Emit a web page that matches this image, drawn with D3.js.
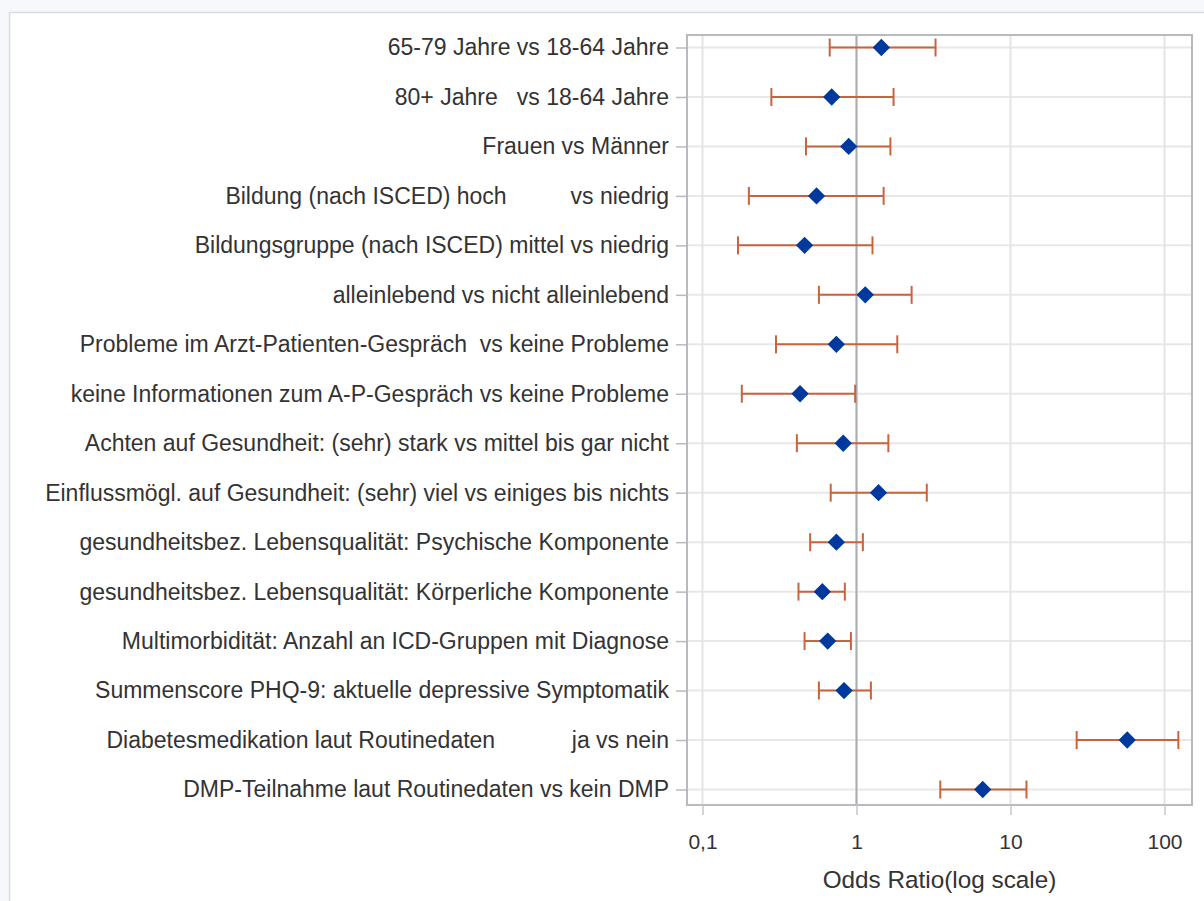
<!DOCTYPE html>
<html>
<head>
<meta charset="utf-8">
<script src="https://cdn.jsdelivr.net/npm/d3@7"></script>
<style>
  html, body { margin: 0; padding: 0; background: #f6f8fc; }
  svg { display: block; }
  text { font-family: "Liberation Sans", Arial, sans-serif; fill: #333; }
</style>
</head>
<body>
<svg id="chart" width="1204" height="901"></svg>
<script>
// Predictors (top to bottom)
const categories = [
  "65-79 Jahre vs 18-64 Jahre",
  "80+ Jahre   vs 18-64 Jahre",
  "Frauen vs Männer",
  "Bildung (nach ISCED) hoch          vs niedrig",
  "Bildungsgruppe (nach ISCED) mittel vs niedrig",
  "alleinlebend vs nicht alleinlebend",
  "Probleme im Arzt-Patienten-Gespräch  vs keine Probleme",
  "keine Informationen zum A-P-Gespräch vs keine Probleme",
  "Achten auf Gesundheit: (sehr) stark vs mittel bis gar nicht",
  "Einflussmögl. auf Gesundheit: (sehr) viel vs einiges bis nichts",
  "gesundheitsbez. Lebensqualität: Psychische Komponente",
  "gesundheitsbez. Lebensqualität: Körperliche Komponente",
  "Multimorbidität: Anzahl an ICD-Gruppen mit Diagnose",
  "Summenscore PHQ-9: aktuelle depressive Symptomatik",
  "Diabetesmedikation laut Routinedaten            ja vs nein",
  "DMP-Teilnahme laut Routinedaten vs kein DMP"
];

// Odds ratios with 95% confidence limits
const oddsRatio = [1.45, 0.69, 0.89, 0.55, 0.46, 1.14, 0.74, 0.43, 0.82, 1.39, 0.74, 0.60, 0.65, 0.83, 57.3, 6.6];
const lowerCL   = [0.67, 0.28, 0.47, 0.20, 0.17, 0.57, 0.30, 0.18, 0.41, 0.68, 0.50, 0.42, 0.46, 0.57, 26.9, 3.5];
const upperCL   = [3.26, 1.74, 1.66, 1.50, 1.27, 2.28, 1.84, 0.98, 1.61, 2.86, 1.10, 0.84, 0.92, 1.24, 123, 12.7];

const xTicks = [0.1, 1, 10, 100];
const xTickLabels = ["0,1", "1", "10", "100"];
const xTitle = "Odds Ratio(log scale)";

const rows = categories.map((c, i) => ({ label: c, or: oddsRatio[i], lo: lowerCL[i], hi: upperCL[i] }));

const svg = d3.select("#chart");

// white panel
svg.append("rect")
  .attr("x", 9.5).attr("y", 12.5).attr("width", 1200).attr("height", 900)
  .attr("fill", "#ffffff").attr("stroke", "#d9dce1").attr("stroke-width", 1.5);

const frame = { left: 687, right: 1192, top: 35, bottom: 805 };

const x = d3.scaleLog().domain([0.0793, 150.9]).range([frame.left, frame.right]);
const y = d3.scalePoint().domain(categories).range([47.5, 789.5]);

const g = svg.append("g");

// horizontal gridlines
g.selectAll("line.hgrid").data(categories).join("line")
  .attr("class", "hgrid")
  .attr("x1", frame.left).attr("x2", frame.right)
  .attr("y1", d => y(d)).attr("y2", d => y(d))
  .attr("stroke", "#e8e8e8").attr("stroke-width", 2);

// vertical gridlines
g.selectAll("line.vgrid").data(xTicks).join("line")
  .attr("class", "vgrid")
  .attr("x1", d => x(d)).attr("x2", d => x(d))
  .attr("y1", frame.top).attr("y2", frame.bottom)
  .attr("stroke", "#e4e4e4").attr("stroke-width", 2);

// reference line at OR = 1
g.append("line")
  .attr("x1", x(1)).attr("x2", x(1))
  .attr("y1", frame.top).attr("y2", frame.bottom)
  .attr("stroke", "#a9aeb3").attr("stroke-width", 2);

// frame
g.append("rect")
  .attr("x", frame.left).attr("y", frame.top)
  .attr("width", frame.right - frame.left).attr("height", frame.bottom - frame.top)
  .attr("fill", "none").attr("stroke", "#b7bbc0").attr("stroke-width", 2);

// y axis (labels + ticks)
const yAxis = d3.axisLeft(y).tickSize(11).tickPadding(7);
const ya = svg.append("g").attr("transform", `translate(${frame.left},0)`).call(yAxis);
ya.select(".domain").remove();
ya.selectAll(".tick line").attr("stroke", "#b7bbc0").attr("stroke-width", 1.5);
ya.selectAll(".tick text")
  .style("white-space", "pre")
  .attr("font-size", 23)
  .attr("fill", "#333")
  .attr("font-family", "\"Liberation Sans\", Arial, sans-serif");

// x axis
const xAxis = d3.axisBottom(x).tickValues(xTicks)
  .tickFormat((d, i) => xTickLabels[i]).tickSize(10).tickPadding(19);
const xa = svg.append("g").attr("transform", `translate(0,${frame.bottom})`).call(xAxis);
xa.select(".domain").remove();
xa.selectAll(".tick line").attr("stroke", "#c4c7cb").attr("stroke-width", 1.5);
xa.selectAll(".tick text")
  .attr("font-size", 21)
  .attr("fill", "#333")
  .attr("font-family", "\"Liberation Sans\", Arial, sans-serif");

svg.append("text")
  .attr("x", (frame.left + frame.right) / 2).attr("y", 888)
  .attr("text-anchor", "middle")
  .attr("font-size", 24.3)
  .text(xTitle);

// confidence intervals
const ci = g.selectAll("g.ci").data(rows).join("g").attr("class", "ci");
const ciColor = "#c7643e";
ci.append("line")
  .attr("x1", d => x(d.lo)).attr("x2", d => x(d.hi))
  .attr("y1", d => y(d.label)).attr("y2", d => y(d.label))
  .attr("stroke", ciColor).attr("stroke-width", 2);
ci.append("line")
  .attr("x1", d => x(d.lo)).attr("x2", d => x(d.lo))
  .attr("y1", d => y(d.label) - 9).attr("y2", d => y(d.label) + 9)
  .attr("stroke", ciColor).attr("stroke-width", 2);
ci.append("line")
  .attr("x1", d => x(d.hi)).attr("x2", d => x(d.hi))
  .attr("y1", d => y(d.label) - 9).attr("y2", d => y(d.label) + 9)
  .attr("stroke", ciColor).attr("stroke-width", 2);

// point estimates (diamonds)
const diamond = d3.symbol().type(d3.symbolSquare).size(150);
g.selectAll("path.or").data(rows).join("path")
  .attr("class", "or")
  .attr("d", diamond)
  .attr("transform", d => `translate(${x(d.or)},${y(d.label)}) rotate(45)`)
  .attr("fill", "#00399e");
</script>
</body>
</html>
